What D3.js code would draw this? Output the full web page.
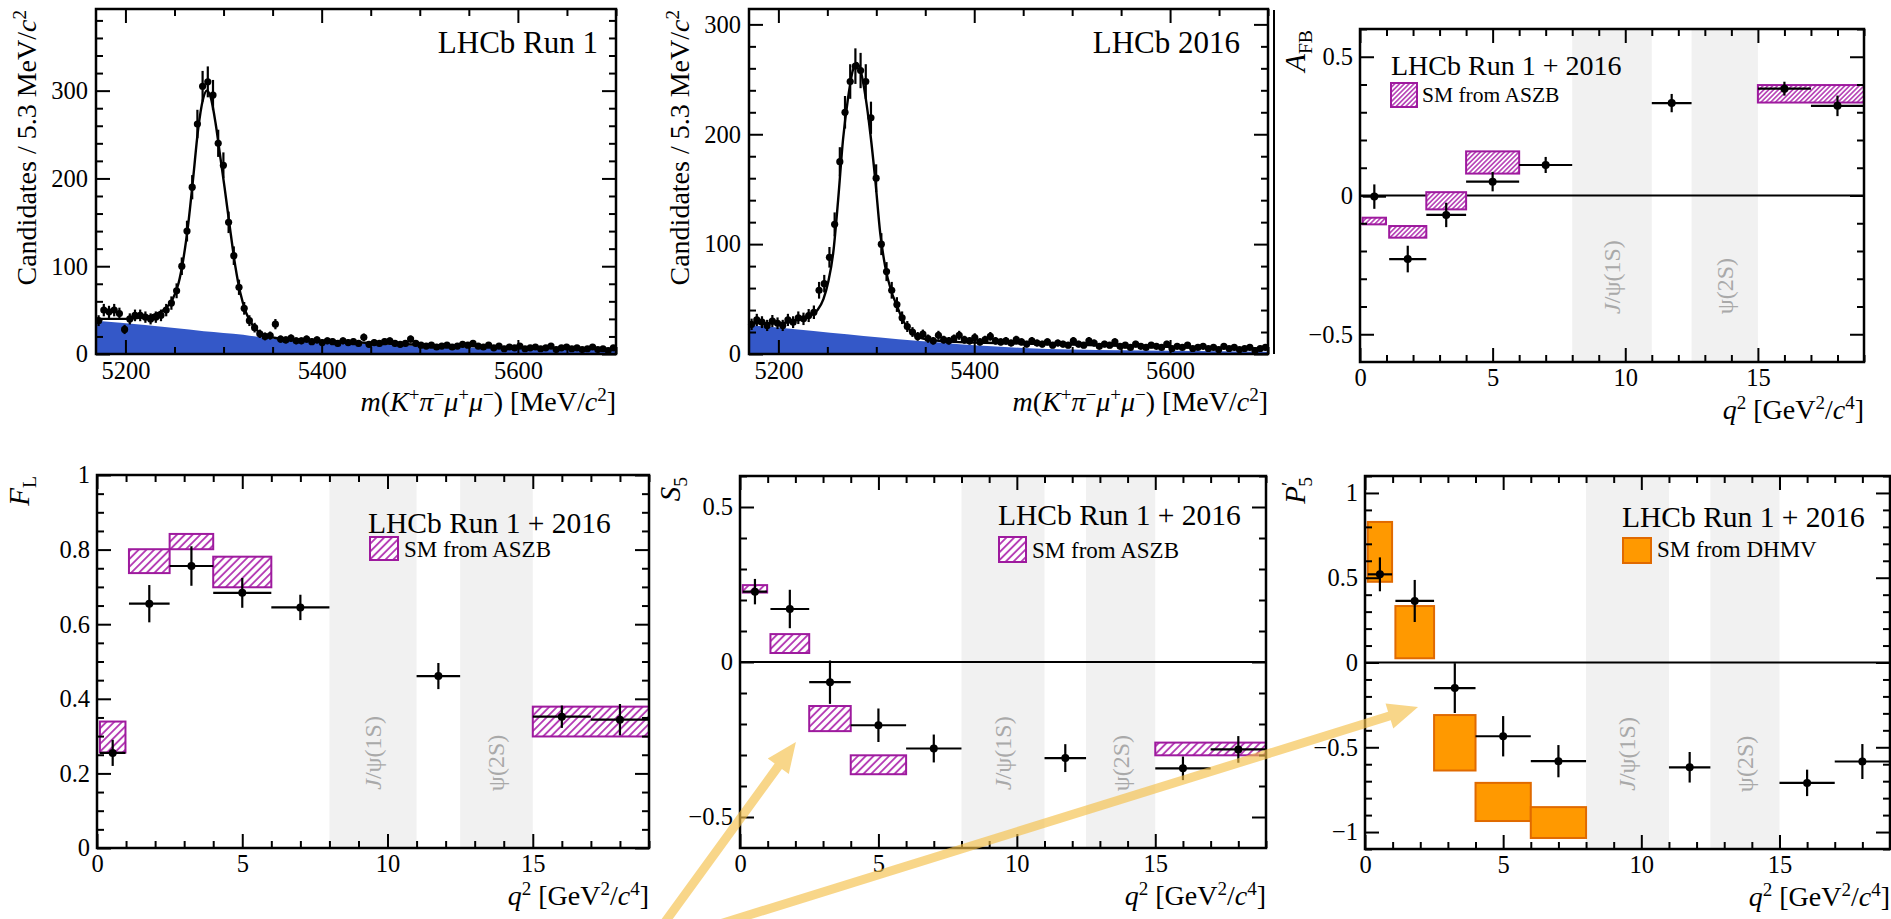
<!DOCTYPE html>
<html>
<head>
<meta charset="utf-8">
<script src="https://cdn.jsdelivr.net/npm/d3@7"></script>
<style>
  html, body { margin: 0; padding: 0; background: #fff; }
  svg { display: block; }
</style>
</head>
<body>
<svg id="fig" width="1891" height="919"></svg>
<script>
// ---------------- data ----------------
// mass spectra: 100 bins of 5.3 MeV from 5170 to 5700
const massLo = 5170, massHi = 5700, massBin = 5.3;
const run1Counts = [
  38, 50, 48, 50, 46, 28, 40, 44, 44, 42,
  40, 42, 44, 50, 58, 72, 100, 140, 190, 262,
  305, 310, 295, 240, 215, 150, 112, 76, 52, 38,
  30, 23, 20, 21, 34, 17, 16, 18, 15, 15,
  17, 14, 16, 13, 15, 14, 12, 15, 13, 14,
  12, 19, 11, 13, 12, 14, 15, 12, 11, 12,
  17, 12, 10, 9, 10, 8, 9, 10, 8, 9,
  11, 10, 12, 9, 8, 10, 7, 9, 6, 8,
  7, 9, 6, 7, 8, 6, 7, 9, 5, 7,
  8, 6, 7, 5, 6, 8, 5, 6, 4, 7
];
const run1FitMass = [5170, 5200, 5220, 5232, 5241, 5248, 5254, 5259, 5264, 5269, 5274, 5279, 5283, 5287, 5292, 5297, 5301, 5306, 5312, 5317, 5323, 5329, 5335, 5342, 5352, 5370, 5400, 5450, 5500, 5550, 5600, 5650, 5700];
const run1FitVal  = [40, 40, 42, 46, 52, 62, 80, 108, 148, 200, 255, 290, 300, 292, 262, 222, 190, 148, 100, 70, 47, 34, 26, 21, 18.5, 16.5, 15, 12.5, 10.5, 9, 7.5, 6.5, 5.5];
const run1BkgMass = [5170, 5220, 5250, 5280, 5320, 5345, 5370, 5400, 5450, 5500, 5550, 5600, 5650, 5700];
const run1BkgVal  = [38, 33, 29.5, 26, 22, 18, 16, 14, 11, 9, 7.5, 6, 5, 4];

const y2016Counts = [
  27, 31, 29, 26, 30, 28, 26, 31, 29, 33,
  32, 35, 38, 58, 64, 88, 118, 175, 220, 248,
  262, 258, 248, 215, 160, 100, 75, 58, 45, 33,
  25, 20, 16, 18, 14, 12, 17, 13, 12, 14,
  17, 13, 12, 15, 11, 13, 16, 12, 11, 12,
  10, 13, 11, 9, 12, 10, 9, 11, 8, 10,
  9, 8, 12, 9, 8, 12, 10, 7, 9, 8,
  11, 7, 8, 6, 9, 7, 6, 8, 7, 6,
  9, 5, 7, 6, 8, 5, 6, 7, 5, 6,
  4, 7, 5, 6, 4, 5, 6, 3, 5, 6
];
const y2016FitMass = [5170, 5200, 5220, 5232, 5240, 5246, 5251, 5256, 5261, 5266, 5271, 5276, 5280, 5284, 5289, 5294, 5299, 5304, 5309, 5315, 5321, 5327, 5333, 5340, 5350, 5370, 5400, 5450, 5500, 5550, 5600, 5650, 5700];
const y2016FitVal  = [28, 28, 31, 35, 40, 50, 66, 92, 140, 195, 232, 258, 265, 258, 234, 200, 158, 110, 80, 58, 44, 31, 23, 17, 13.5, 11.5, 10.5, 9.5, 8.5, 7.5, 6.5, 5.5, 5];
const y2016BkgMass = [5170, 5236, 5270, 5304, 5341, 5370, 5400, 5450, 5500, 5600, 5700];
const y2016BkgVal  = [26.5, 21, 18, 15, 12, 10, 8, 5.5, 4, 3, 2];

// angular observables in q2 bins
const q2Lo  = [0.1, 1.1, 2.5, 4, 6, 11, 15, 17];
const q2Hi  = [0.98, 2.5, 4, 6, 8, 12.5, 17, 19];
const q2Mid = [0.54, 1.8, 3.25, 5, 7, 11.75, 16, 18];

const flVal  = [0.255, 0.655, 0.756, 0.684, 0.645, 0.461, 0.352, 0.344];
const flErr  = [0.035, 0.050, 0.053, 0.040, 0.034, 0.035, 0.030, 0.042];
const afbVal = [-0.004, -0.229, -0.070, 0.050, 0.110, 0.333, 0.385, 0.323];
const afbErr = [0.044, 0.048, 0.044, 0.035, 0.029, 0.033, 0.025, 0.037];
const s5Val  = [0.227, 0.171, -0.065, -0.204, -0.279, -0.310, -0.343, -0.282];
const s5Err  = [0.041, 0.062, 0.070, 0.054, 0.045, 0.045, 0.038, 0.043];
const p5Val  = [0.520, 0.363, -0.151, -0.435, -0.582, -0.618, -0.710, -0.584];
const p5Err  = [0.100, 0.124, 0.147, 0.119, 0.095, 0.090, 0.078, 0.103];

// SM predictions (ASZB for FL, AFB, S5; DHMV for P5')
const aszbLo = [0.1, 1.1, 2.5, 4, 15];
const aszbHi = [0.98, 2.5, 4, 6, 19];
const flSmLow   = [0.256, 0.737, 0.801, 0.699, 0.299];
const flSmHigh  = [0.339, 0.801, 0.842, 0.781, 0.379];
const afbSmLow  = [-0.104, -0.152, -0.050, 0.079, 0.335];
const afbSmHigh = [-0.080, -0.110, 0.012, 0.159, 0.398];
const s5SmLow   = [0.224, 0.029, -0.223, -0.362, -0.301];
const s5SmHigh  = [0.248, 0.090, -0.142, -0.301, -0.260];
const dhmvLo = [0.1, 1.1, 2.5, 4, 6];
const dhmvHi = [0.98, 2.5, 4, 6, 8];
const p5SmLow  = [0.476, 0.025, -0.637, -0.935, -1.035];
const p5SmHigh = [0.829, 0.333, -0.310, -0.710, -0.853];

// charmonium vetoes
const vetoLo = [8, 12.5];
const vetoHi = [11, 15];

// tick labels
const massXTicks = [5200, 5400, 5600];
const massYTicks = [0, 100, 200, 300];
const q2Ticks = [0, 5, 10, 15];
const flTicks = [0, 0.2, 0.4, 0.6, 0.8, 1];
const halfTicks = [-0.5, 0, 0.5];
const p5Ticks = [-1, -0.5, 0, 0.5, 1];

// ---------------- drawing ----------------
const FONT = '"Liberation Serif", "Times New Roman", Times, serif';
const MAG = '#9e1a9e', MAG_HATCH = '#b53db5';
const svg = d3.select('#fig').attr('font-family', FONT);
const defs = svg.append('defs');

function hatch(id, gap, w) {
  const p = defs.append('pattern').attr('id', id)
    .attr('patternUnits', 'userSpaceOnUse')
    .attr('width', gap).attr('height', gap)
    .attr('patternTransform', 'rotate(45)');
  p.append('rect').attr('width', gap).attr('height', gap).attr('fill', '#fff');
  p.append('line').attr('x1', gap / 2).attr('x2', gap / 2).attr('y1', 0).attr('y2', gap)
    .attr('stroke', MAG_HATCH).attr('stroke-width', w);
}
hatch('hatch', 5.5, 1.9);
hatch('hatchFine', 3.4, 1.6);

const fmtNum = v => (v < 0 ? '\u2212' : '') + String(Math.abs(v));
const minorVals = (dom, step) => d3.range(Math.ceil(dom[0] / step) * step, dom[1] + 1e-9, step).map(v => +v.toFixed(4));

// text with italics / super- / subscripts
function rich(t, parts, fs) {
  let cur = 0;
  parts.forEach(p => {
    const s = typeof p === 'string' ? { t: p } : p;
    let off = 0, size = fs;
    if (s.sup) { off = -0.36 * fs; size = 0.68 * fs; }
    if (s.sub) { off = 0.24 * fs; size = 0.68 * fs; }
    const ts = t.append('tspan').text(s.t).attr('font-size', size);
    if (off !== cur) ts.attr('dy', off - cur);
    if (s.dx) ts.attr('dx', s.dx * fs);
    if (s.i) ts.attr('font-style', 'italic');
    cur = off;
  });
  return t;
}
function label(x, y, parts, fs, anchor, rot, fill) {
  const t = svg.append('text')
    .attr('transform', `translate(${x},${y})` + (rot ? ' rotate(-90)' : ''))
    .attr('text-anchor', anchor).attr('font-size', fs).attr('fill', fill || '#000');
  return rich(t, parts, fs);
}

// ROOT-like frame: inward ticks on all four sides
function drawAxes(x, y, o) {
  const [l, r] = x.range(), [b, t] = y.range();
  const MAJ = 14, MIN = 7;
  const put = (axis, tx, ty, vals, size, withLabels) => {
    const g = svg.append('g').attr('transform', `translate(${tx},${ty})`)
      .call(axis.tickValues(vals).tickSize(size).tickPadding(withLabels ? o.pad : 0)
        .tickFormat(withLabels ? fmtNum : () => ''));
    g.select('.domain').remove();
    g.attr('font-family', FONT).attr('font-size', 24.5);
    g.selectAll('line').attr('stroke', '#000').attr('stroke-width', 2);
    g.selectAll('text').attr('fill', '#000').style('font-family', FONT);
  };
  const xMin = minorVals(x.domain(), o.xMinor).filter(v => !o.xTicks.includes(v));
  const yMin = minorVals(y.domain(), o.yMinor).filter(v => !o.yTicks.some(k => Math.abs(k - v) < 1e-6));
  put(d3.axisBottom(x), 0, b, o.xTicks, -MAJ, true);
  put(d3.axisBottom(x), 0, b, xMin, -MIN, false);
  put(d3.axisTop(x), 0, t, o.xTicks, -MAJ, false);
  put(d3.axisTop(x), 0, t, xMin, -MIN, false);
  put(d3.axisLeft(y), l, 0, o.yTicks, -MAJ, true);
  put(d3.axisLeft(y), l, 0, yMin, -MIN, false);
  put(d3.axisRight(y), r, 0, o.yTicks, -MAJ, false);
  put(d3.axisRight(y), r, 0, yMin, -MIN, false);
  svg.append('rect').attr('x', l).attr('y', t).attr('width', r - l).attr('height', b - t)
    .attr('fill', 'none').attr('stroke', '#000').attr('stroke-width', 2.5);
}

// ---- mass panels ----
const massTitle = [{ t: 'm', i: true }, '(', { t: 'K', i: true }, { t: '+', sup: true }, { t: '\u03c0', i: true }, { t: '\u2212', sup: true },
  { t: '\u03bc', i: true }, { t: '+', sup: true }, { t: '\u03bc', i: true }, { t: '\u2212', sup: true }, ') [MeV/', { t: 'c', i: true }, { t: '2', sup: true }, ']'];
const candTitle = ['Candidates / 5.3 MeV/', { t: 'c', i: true }, { t: '2', sup: true }];

const massPanels = [
  { box: { l: 96, r: 616, t: 9, b: 354 }, yMax: 393, counts: run1Counts, fitM: run1FitMass, fitV: run1FitVal,
    bkgM: run1BkgMass, bkgV: run1BkgVal, header: 'LHCb Run 1', headerX: 598, yTitleX: 36 },
  { box: { l: 749, r: 1268, t: 9, b: 354 }, yMax: 314, counts: y2016Counts, fitM: y2016FitMass, fitV: y2016FitVal,
    bkgM: y2016BkgMass, bkgV: y2016BkgVal, header: 'LHCb 2016', headerX: 1240, yTitleX: 689 }
];

massPanels.forEach(p => {
  const x = d3.scaleLinear().domain([massLo, massHi]).range([p.box.l, p.box.r]);
  const y = d3.scaleLinear().domain([0, p.yMax]).range([p.box.b, p.box.t]);
  const bkg = p.bkgM.map((m, i) => [m, p.bkgV[i]]);
  svg.append('path').datum(bkg)
    .attr('d', d3.area().x(d => x(d[0])).y0(y(0)).y1(d => y(d[1])).curve(d3.curveMonotoneX))
    .attr('fill', '#3458c8');
  const fit = p.fitM.map((m, i) => [m, p.fitV[i]]);
  svg.append('path').datum(fit)
    .attr('d', d3.line().x(d => x(d[0])).y(d => y(d[1])).curve(d3.curveMonotoneX))
    .attr('fill', 'none').attr('stroke', '#000').attr('stroke-width', 2.4);
  const pts = p.counts.map((c, i) => ({ m: massLo + massBin * (i + 0.5), c }));
  const g = svg.append('g');
  g.selectAll('line.v').data(pts).enter().append('line')
    .attr('x1', d => x(d.m)).attr('x2', d => x(d.m))
    .attr('y1', d => y(d.c + Math.sqrt(d.c))).attr('y2', d => y(Math.max(0, d.c - Math.sqrt(d.c))))
    .attr('stroke', '#000').attr('stroke-width', 2.2);
  g.selectAll('line.h').data(pts).enter().append('line')
    .attr('x1', d => x(d.m - massBin / 2)).attr('x2', d => x(d.m + massBin / 2))
    .attr('y1', d => y(d.c)).attr('y2', d => y(d.c))
    .attr('stroke', '#000').attr('stroke-width', 2.2);
  g.selectAll('circle').data(pts).enter().append('circle')
    .attr('cx', d => x(d.m)).attr('cy', d => y(d.c)).attr('r', 3.6).attr('fill', '#000');
  drawAxes(x, y, { xTicks: massXTicks, xMinor: 50, yTicks: massYTicks, yMinor: 20, pad: 8 });
  label(p.headerX, 53, [p.header], 31, 'end');
  label(p.box.r, 411, massTitle, 28, 'end');
  label(p.yTitleX, 10, candTitle, 28, 'end', true);
});

// ---- q2 panels ----
const q2Title = [{ t: 'q', i: true }, { t: '2', sup: true }, ' [GeV', { t: '2', sup: true }, '/', { t: 'c', i: true }, { t: '4', sup: true }, ']'];
const vetoTitle = [[{ t: 'J', i: true }, '/\u03c8(1S)'], ['\u03c8(2S)']];
const vetoFrac = [0.745, 0.772];

const q2Panels = [
  { box: { l: 1360, r: 1864, t: 29, b: 362 }, yDom: [-0.6, 0.6], yTicks: halfTicks, yMinor: 0.1,
    val: afbVal, err: afbErr, smLo: aszbLo, smHi: aszbHi, smLow: afbSmLow, smHigh: afbSmHigh,
    fill: 'url(#hatchFine)', stroke: MAG, zero: true,
    title: [{ t: 'A', i: true }, { t: 'FB', sub: true }], titleX: 1305,
    head: { x: 1391, y: 75, fs: 28 }, leg: { x: 1391, y: 83, w: 26, h: 24, tx: 1422, ty: 102, fs: 21.5 }, legText: 'SM from ASZB' },
  { box: { l: 97, r: 649, t: 475, b: 848 }, yDom: [0, 1], yTicks: flTicks, yMinor: 0.05,
    val: flVal, err: flErr, smLo: aszbLo, smHi: aszbHi, smLow: flSmLow, smHigh: flSmHigh,
    fill: 'url(#hatch)', stroke: MAG, zero: false,
    title: [{ t: 'F', i: true }, { t: 'L', sub: true }], titleX: 29,
    head: { x: 368, y: 533, fs: 29.5 }, leg: { x: 370, y: 537, w: 28, h: 23, tx: 404, ty: 557, fs: 23 }, legText: 'SM from ASZB' },
  { box: { l: 740, r: 1266, t: 476, b: 848 }, yDom: [-0.6, 0.6], yTicks: halfTicks, yMinor: 0.1,
    val: s5Val, err: s5Err, smLo: aszbLo, smHi: aszbHi, smLow: s5SmLow, smHigh: s5SmHigh,
    fill: 'url(#hatch)', stroke: MAG, zero: true,
    title: [{ t: 'S', i: true }, { t: '5', sub: true }], titleX: 680,
    head: { x: 998, y: 525, fs: 29.5 }, leg: { x: 999, y: 537, w: 27, h: 25, tx: 1032, ty: 558, fs: 23 }, legText: 'SM from ASZB' },
  { box: { l: 1365, r: 1890, t: 476, b: 849 }, yDom: [-1.1, 1.1], yTicks: p5Ticks, yMinor: 0.1,
    val: p5Val, err: p5Err, smLo: dhmvLo, smHi: dhmvHi, smLow: p5SmLow, smHigh: p5SmHigh,
    fill: '#ff9900', stroke: '#e06a00', zero: true,
    title: [{ t: 'P', i: true }, { t: '\u2032', sup: true }, { t: '5', sub: true, dx: -0.18 }], titleX: 1305,
    head: { x: 1622, y: 527, fs: 29.5 }, leg: { x: 1623, y: 538, w: 28, h: 25, tx: 1657, ty: 557, fs: 23 }, legText: 'SM from DHMV' }
];

const scales = [];
q2Panels.forEach(p => {
  const x = d3.scaleLinear().domain([0, 19]).range([p.box.l, p.box.r]);
  const y = d3.scaleLinear().domain(p.yDom).range([p.box.b, p.box.t]);
  scales.push({ x, y });
  // vetoed charmonium regions
  vetoLo.forEach((lo, i) => {
    svg.append('rect').attr('x', x(lo)).attr('y', p.box.t).attr('width', x(vetoHi[i]) - x(lo))
      .attr('height', p.box.b - p.box.t).attr('fill', '#f1f1f1');
    const fs = 24;
    label(x((lo + vetoHi[i]) / 2) + 0.33 * fs, p.box.t + vetoFrac[i] * (p.box.b - p.box.t), vetoTitle[i], fs, 'middle', true, '#a9a9a9');
  });
  if (p.zero) {
    svg.append('line').attr('x1', p.box.l).attr('x2', p.box.r).attr('y1', y(0)).attr('y2', y(0))
      .attr('stroke', '#000').attr('stroke-width', 1.8);
  }
  // SM prediction boxes
  svg.append('g').selectAll('rect').data(p.smLo).enter().append('rect')
    .attr('x', (d, i) => x(d)).attr('width', (d, i) => x(p.smHi[i]) - x(d))
    .attr('y', (d, i) => y(p.smHigh[i])).attr('height', (d, i) => y(p.smLow[i]) - y(p.smHigh[i]))
    .attr('fill', p.fill).attr('stroke', p.stroke).attr('stroke-width', 2);
  // data
  const g = svg.append('g');
  const idx = d3.range(p.val.length);
  g.selectAll('line.h').data(idx).enter().append('line')
    .attr('x1', i => x(q2Lo[i])).attr('x2', i => x(q2Hi[i]))
    .attr('y1', i => y(p.val[i])).attr('y2', i => y(p.val[i]))
    .attr('stroke', '#000').attr('stroke-width', 2.2);
  g.selectAll('line.v').data(idx).enter().append('line')
    .attr('x1', i => x(q2Mid[i])).attr('x2', i => x(q2Mid[i]))
    .attr('y1', i => y(p.val[i] - p.err[i])).attr('y2', i => y(p.val[i] + p.err[i]))
    .attr('stroke', '#000').attr('stroke-width', 2.2);
  g.selectAll('circle').data(idx).enter().append('circle')
    .attr('cx', i => x(q2Mid[i])).attr('cy', i => y(p.val[i])).attr('r', 4).attr('fill', '#000');
  // legend
  label(p.head.x, p.head.y, ['LHCb Run 1 + 2016'], p.head.fs, 'start');
  svg.append('rect').attr('x', p.leg.x).attr('y', p.leg.y).attr('width', p.leg.w).attr('height', p.leg.h)
    .attr('fill', p.fill).attr('stroke', p.stroke).attr('stroke-width', 2);
  label(p.leg.tx, p.leg.ty, [p.legText], p.leg.fs, 'start');
  drawAxes(x, y, { xTicks: q2Ticks, xMinor: 1, yTicks: p.yTicks, yMinor: p.yMinor, pad: 7 });
  label(p.box.r, p.box.b + 57, q2Title, 28, 'end');
  label(p.titleX, p.box.t + 1, p.title, 29, 'end', true);
});

// edge of a neighbouring figure left of the AFB panel
svg.append('line').attr('x1', 1274).attr('x2', 1274).attr('y1', 10).attr('y2', 354)
  .attr('stroke', '#000').attr('stroke-width', 2);

// ---- highlight arrows (defined in the S5 / P5' panel coordinates) ----
const arrowFromQ2 = [-2.8, -0.9];
const arrowFromVal = [-0.85, -0.85];
const arrowToQ2 = [2.02, 1.92];
const arrowToVal = [-0.258, -0.263];
const arrowToPanel = [2, 3];   // index in q2Panels
const s5 = scales[2];
arrowFromQ2.forEach((q, i) => {
  const tgt = scales[arrowToPanel[i]];
  const x0 = s5.x(q), y0 = s5.y(arrowFromVal[i]);
  const x1 = tgt.x(arrowToQ2[i]), y1 = tgt.y(arrowToVal[i]);
  const len = Math.hypot(x1 - x0, y1 - y0), ux = (x1 - x0) / len, uy = (y1 - y0) / len;
  const nx = -uy, ny = ux, hw = 4.5, hh = 13, hl = 30;
  const bx = x1 - ux * hl, by = y1 - uy * hl;
  const pts = [
    [x0 + nx * hw, y0 + ny * hw], [bx + nx * hw, by + ny * hw], [bx + nx * hh, by + ny * hh], [x1, y1],
    [bx - nx * hh, by - ny * hh], [bx - nx * hw, by - ny * hw], [x0 - nx * hw, y0 - ny * hw]
  ];
  svg.append('path').attr('d', d3.line()(pts) + 'Z')
    .attr('fill', '#f5c04a').attr('fill-opacity', 0.65);
});
</script>
</body>
</html>
